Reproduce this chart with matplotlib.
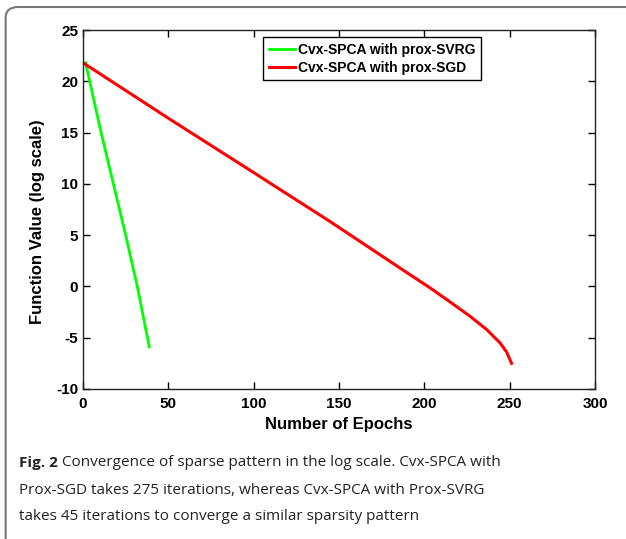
import matplotlib
matplotlib.use("Agg")
import matplotlib.pyplot as plt
from matplotlib.patches import FancyBboxPatch

plt.rcParams['axes.unicode_minus'] = False
plt.rcParams['font.family'] = ['Liberation Sans', 'DejaVu Sans']

# data
svrg_epochs = [1.5, 10.6, 17.8, 25.0, 31.8, 34.8, 36.8, 38, 38.8]
svrg_values = [21.8, 15.0, 10.0, 5.0, 0.0, -2.5, -4.2, -5.2, -5.9]

sgd_epochs = [1, 50, 100, 145, 192, 203, 215, 226.7, 236.5, 244.3, 248.2, 251.1]
sgd_values = [21.7, 16.4, 11.1, 6.3, 1.1, -0.1, -1.5, -2.9, -4.2, -5.5, -6.4, -7.5]

x_ticks = [0, 50, 100, 150, 200, 250, 300]
y_ticks = [-10, -5, 0, 5, 10, 15, 20, 25]

caption_bold = 'Fig. 2'
caption_lines = [
    'Convergence of sparse pattern in the log scale. Cvx-SPCA with',
    'Prox-SGD takes 275 iterations, whereas Cvx-SPCA with Prox-SVRG',
    'takes 45 iterations to converge a similar sparsity pattern',
]

fig = plt.figure(figsize=(6.26, 5.39), dpi=100)
ax = fig.add_axes([0.1326, 0.2783, 0.8179, 0.666])

ax.plot(svrg_epochs, svrg_values, color='#00ff00', linewidth=2.0,
        label='Cvx-SPCA with prox-SVRG')
ax.plot(sgd_epochs, sgd_values, color='#ff0000', linewidth=2.2,
        label='Cvx-SPCA with prox-SGD')

ax.set_xlim(0, 300)
ax.set_ylim(-10, 25)
ax.set_xticks(x_ticks)
ax.set_yticks(y_ticks)
ax.tick_params(direction='in', top=True, right=True, length=5, width=1,
               labelsize=11)
ax.tick_params(axis='x', pad=6)
for lab in ax.get_xticklabels() + ax.get_yticklabels():
    lab.set_fontweight('bold')
for s in ax.spines.values():
    s.set_linewidth(1.0)
    s.set_color('#222222')

ax.set_xlabel('Number of Epochs', fontsize=12, fontweight='bold', labelpad=4)
ax.set_ylabel('Function Value (log scale)', fontsize=12, fontweight='bold')
ax.yaxis.set_label_coords(-0.074, 0.465)

leg = ax.legend(loc='upper left', bbox_to_anchor=(0.3516, 0.9805),
                borderaxespad=0, prop={'weight': 'bold', 'size': 10},
                fancybox=False, edgecolor='black', framealpha=1,
                handlelength=1.9, handletextpad=0.2, borderpad=0.4,
                labelspacing=0.3)
leg.get_frame().set_linewidth(1.0)

# outer panel frame
frame = FancyBboxPatch((0.009, -0.05), 1.2, 1.037,
                       boxstyle='round,pad=0,rounding_size=0.02',
                       transform=fig.transFigure, fill=False,
                       edgecolor='#777777', linewidth=1.5, clip_on=False)
fig.patches.append(frame)

# caption
cap_font = dict(fontsize=11, family='Open Sans', va='center', color='#222222')
cap_x = 19 / 626
cap_y = [1 - 463 / 539, 1 - 490 / 539, 1 - 517 / 539]
t = fig.text(cap_x, cap_y[0], caption_bold + ' ', fontweight='bold', **cap_font)
fig.canvas.draw()
bb = t.get_window_extent().transformed(fig.transFigure.inverted())
fig.text(bb.x1, cap_y[0], caption_lines[0], **cap_font)
fig.text(cap_x, cap_y[1], caption_lines[1], **cap_font)
fig.text(cap_x, cap_y[2], caption_lines[2], **cap_font)

fig.savefig('out.png', dpi=100)
plt.close(fig)
